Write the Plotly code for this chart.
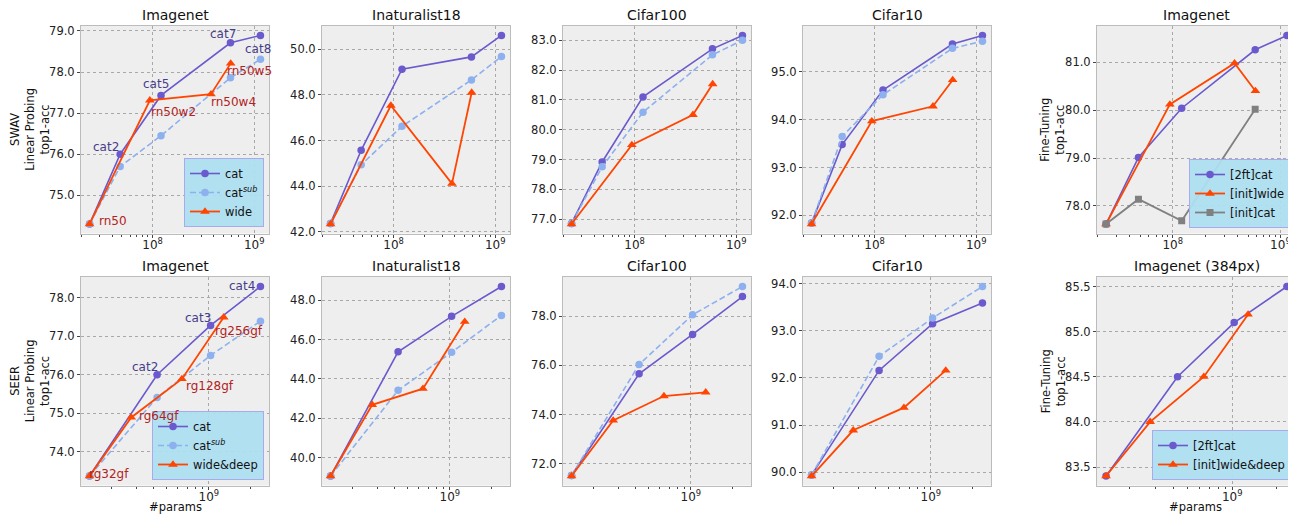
import numpy as np
import plotly.graph_objects as go

# ---------------- data ----------------
swav_params_cat = [24e6, 48e6, 121e6, 583e6, 1.15e9]
swav_params_wide = [24e6, 94e6, 375e6, 586e6]
swav_params_initcat = [24e6, 48e6, 121e6, 583e6]
seer_params_cat = [1.39e8, 4.25e8, 1.03e9, 2.35e9]
seer_params_wide = [1.39e8, 2.77e8, 6.41e8, 1.28e9]

swav_imagenet_cat = [74.3, 76.0, 77.43, 78.71, 78.89]
swav_imagenet_catsub = [74.3, 75.7, 76.45, 77.86, 78.31]
swav_imagenet_wide = [74.3, 77.31, 77.46, 78.21]
swav_inat_cat = [42.37, 45.57, 49.12, 49.66, 50.6]
swav_inat_catsub = [42.37, 44.94, 46.62, 48.65, 49.68]
swav_inat_wide = [42.34, 47.53, 44.11, 48.1]
swav_c100_cat = [76.86, 78.92, 81.1, 82.71, 83.16]
swav_c100_catsub = [76.86, 78.76, 80.59, 82.51, 83.0]
swav_c100_wide = [76.84, 79.49, 80.5, 81.53]
swav_c10_cat = [91.84, 93.48, 94.62, 95.58, 95.76]
swav_c10_catsub = [91.84, 93.65, 94.52, 95.49, 95.64]
swav_c10_wide = [91.82, 93.97, 94.28, 94.83]
ft_2ftcat = [77.62, 79.01, 80.04, 81.26, 81.56]
ft_initwide = [77.62, 80.12, 80.98, 80.40]
ft_initcat = [77.62, 78.14, 77.69, 80.02]

seer_imagenet_cat = [73.37, 76.0, 77.28, 78.29]
seer_imagenet_catsub = [73.37, 75.41, 76.5, 77.39]
seer_imagenet_wide = [73.37, 74.89, 75.89, 77.49]
seer_inat_cat = [39.06, 45.38, 47.18, 48.7]
seer_inat_catsub = [39.06, 43.42, 45.35, 47.23]
seer_inat_wide = [39.06, 42.68, 43.5, 46.91]
seer_c100_cat = [71.52, 75.65, 77.25, 78.79]
seer_c100_catsub = [71.52, 76.03, 78.05, 79.2]
seer_c100_wide = [71.5, 73.76, 74.75, 74.9]
seer_c10_cat = [89.94, 92.16, 93.15, 93.59]
seer_c10_catsub = [89.94, 92.46, 93.27, 93.94]
seer_c10_wide = [89.92, 90.89, 91.37, 92.16]
ft384_2ftcat = [83.4, 84.5, 85.1, 85.5]
ft384_initwd = [83.4, 84.0, 84.5, 85.19]

swav_cat_names = ["", "cat2", "cat5", "cat7", "cat8"]
swav_wide_names = ["rn50", "rn50w2", "rn50w4", "rn50w5"]
seer_cat_names = ["", "cat2", "cat3", "cat4"]
seer_wide_names = ["rg32gf", "rg64gf", "rg128gf", "rg256gf"]

titles = ["Imagenet", "Inaturalist18", "Cifar100", "Cifar10", "Imagenet",
          "Imagenet", "Inaturalist18", "Cifar100", "Cifar10", "Imagenet (384px)"]
yticks = [[75, 76, 77, 78, 79], [42, 44, 46, 48, 50], [77, 78, 79, 80, 81, 82, 83],
          [92, 93, 94, 95], [78, 79, 80, 81],
          [74, 75, 76, 77, 78], [40, 42, 44, 46, 48], [72, 74, 76, 78],
          [90, 91, 92, 93, 94], [83.5, 84.0, 84.5, 85.0, 85.5]]

# ---------------- styles / layout ----------------
OFF = 8  # page body margin of the rendered html
W, H = 1296 - OFF, 514 - OFF
FONT = "DejaVu Sans"
C_CAT = "#6A5ACD"
C_SUB = "#8DB0EE"
C_WIDE = "#FF4500"
C_GRAY = "#808080"
C_CATLBL = "#483D8B"
C_WIDELBL = "#B22222"

cols_px = [(81, 269), (322, 510), (563, 751), (803, 991), (1097, 1296)]
rows_px = [(26, 233.5), (277, 485.5)]


def px(X):
    return (X - OFF) / W


def py(Y):
    return 1 - (Y - OFF) / H


STY = {
    "cat": dict(mode="lines+markers", line=dict(color=C_CAT, width=1.6),
                marker=dict(symbol="circle", size=7.5, color=C_CAT)),
    "sub": dict(mode="lines+markers", line=dict(color=C_SUB, width=1.6, dash="6px,3px"),
                marker=dict(symbol="circle", size=7.5, color=C_SUB)),
    "wide": dict(mode="lines+markers", line=dict(color=C_WIDE, width=1.8),
                 marker=dict(symbol="triangle-up", size=8.5, color=C_WIDE)),
    "gray": dict(mode="lines+markers", line=dict(color=C_GRAY, width=1.8),
                 marker=dict(symbol="square", size=7, color=C_GRAY)),
}

panels = [
    [("cat", "cat", swav_params_cat, swav_imagenet_cat),
     ("sub", "cat<sup><i>sub</i></sup>", swav_params_cat, swav_imagenet_catsub),
     ("wide", "wide", swav_params_wide, swav_imagenet_wide)],
    [("cat", "", swav_params_cat, swav_inat_cat),
     ("sub", "", swav_params_cat, swav_inat_catsub),
     ("wide", "", swav_params_wide, swav_inat_wide)],
    [("cat", "", swav_params_cat, swav_c100_cat),
     ("sub", "", swav_params_cat, swav_c100_catsub),
     ("wide", "", swav_params_wide, swav_c100_wide)],
    [("cat", "", swav_params_cat, swav_c10_cat),
     ("sub", "", swav_params_cat, swav_c10_catsub),
     ("wide", "", swav_params_wide, swav_c10_wide)],
    [("cat", "[2ft]cat", swav_params_cat, ft_2ftcat),
     ("wide", "[init]wide", swav_params_wide, ft_initwide),
     ("gray", "[init]cat", swav_params_initcat, ft_initcat)],
    [("cat", "cat", seer_params_cat, seer_imagenet_cat),
     ("sub", "cat<sup><i>sub</i></sup>", seer_params_cat, seer_imagenet_catsub),
     ("wide", "wide&deep", seer_params_wide, seer_imagenet_wide)],
    [("cat", "", seer_params_cat, seer_inat_cat),
     ("sub", "", seer_params_cat, seer_inat_catsub),
     ("wide", "", seer_params_wide, seer_inat_wide)],
    [("cat", "", seer_params_cat, seer_c100_cat),
     ("sub", "", seer_params_cat, seer_c100_catsub),
     ("wide", "", seer_params_wide, seer_c100_wide)],
    [("cat", "", seer_params_cat, seer_c10_cat),
     ("sub", "", seer_params_cat, seer_c10_catsub),
     ("wide", "", seer_params_wide, seer_c10_wide)],
    [("cat", "[2ft]cat", seer_params_cat, ft384_2ftcat),
     ("wide", "[init]wide&deep", seer_params_wide, ft384_initwd)],
]
legend_of = {0: "legend", 4: "legend2", 5: "legend3", 9: "legend4"}

fig = go.Figure()
layout = dict(
    width=W, height=H, margin=dict(l=0, r=0, t=0, b=0, autoexpand=False),
    paper_bgcolor="white", plot_bgcolor="#EEEEEE",
    font=dict(family=FONT, size=11.5, color="#222"),
    showlegend=True,
)

minor_top = [m * 10 ** e for e in (7, 8) for m in range(2, 10)]
minor_bot = [m * 10 ** e for e in (8, 9) for m in range(2, 10)]

annotations = []
for i, series in enumerate(panels):
    r, c = divmod(i, 5)
    k = i + 1
    xs_all = np.log10(np.concatenate([np.array(s[2]) for s in series]))
    ys_all = np.concatenate([np.array(s[3]) for s in series])
    xlo, xhi = xs_all.min(), xs_all.max()
    ylo, yhi = ys_all.min(), ys_all.max()
    xm, ym = 0.05 * (xhi - xlo), 0.05 * (yhi - ylo)
    x0, x1 = cols_px[c]
    y0, y1 = rows_px[r]
    ax = "" if k == 1 else str(k)
    leg = legend_of.get(i)
    for key, name, xv, yv in series:
        tr = go.Scatter(x=xv, y=yv, xaxis="x" + ax, yaxis="y" + ax,
                        name=name or key, showlegend=bool(leg and name),
                        **STY[key])
        if leg:
            tr.legend = leg
        fig.add_trace(tr)
    major = [1e8, 1e9] if r == 0 else [1e9]
    layout["xaxis" + ax] = dict(
        type="log", domain=[px(x0), min(1.0, px(x1))], anchor="y" + ax,
        range=[xlo - xm, xhi + xm],
        tickmode="array", tickvals=major,
        ticktext=["10<sup>%d</sup>" % int(round(np.log10(v))) for v in major],
        ticks="outside", ticklen=3.5, tickcolor="#444", tickwidth=1,
        ticklabelstandoff=-3,
        tickfont=dict(size=12, color="#222"),
        showgrid=True, gridcolor="#A8A8A8", griddash="dot", gridwidth=0.9,
        showline=True, mirror=True, linecolor="#BCBCBC", linewidth=1,
        zeroline=False,
        minor=dict(tickvals=minor_top if r == 0 else minor_bot, ticks="outside",
                   ticklen=2, tickcolor="#444", showgrid=False),
    )
    layout["yaxis" + ax] = dict(
        domain=[py(y1), py(y0)], anchor="x" + ax,
        range=[ylo - ym, yhi + ym],
        tickmode="array", tickvals=yticks[i], tickformat=".1f",
        ticks="outside", ticklen=3, tickcolor="#444",
        tickfont=dict(size=11.5, color="#222"),
        showgrid=True, gridcolor="#A8A8A8", griddash="dot", gridwidth=0.9,
        showline=True, mirror=True, linecolor="#BCBCBC", linewidth=1,
        zeroline=False,
    )
    annotations.append(dict(
        text=titles[i], xref="paper", yref="paper",
        x=px((x0 + x1) / 2), y=py(y0), xanchor="center", yanchor="bottom",
        yshift=1, showarrow=False, font=dict(size=14, color="#111")))

# point labels (offsets in pixels: dx right, dy down)
label_sets = [
    (1, swav_params_cat, swav_imagenet_cat, swav_cat_names, C_CATLBL,
     [(0, 0), (-14, -7), (-5.5, -11.7), (-7.5, -8.4), (-2, 13.6)]),
    (1, swav_params_wide, swav_imagenet_wide, swav_wide_names, C_WIDELBL,
     [(23, -3), (23.7, 11.7), (22.7, 7.4), (18.5, 7.4)]),
    (6, seer_params_cat, seer_imagenet_cat, seer_cat_names, C_CATLBL,
     [(0, 0), (-12.3, -7.3), (-12.5, -7.7), (-18.5, -0.3)]),
    (6, seer_params_wide, seer_imagenet_wide, seer_wide_names, C_WIDELBL,
     [(19, -1.7), (28, -1), (28, 7.4), (15, 13.3)]),
]
for k, xv, yv, names, col, offs in label_sets:
    ax = "" if k == 1 else str(k)
    for xx, yy, nm, (dx, dy) in zip(xv, yv, names, offs):
        if not nm:
            continue
        annotations.append(dict(
            text=nm, xref="x" + ax, yref="y" + ax, x=np.log10(xx), y=yy,
            xanchor="center", yanchor="middle", xshift=dx, yshift=-dy,
            showarrow=False, font=dict(size=12, color=col)))

# axis titles
ylab = [("SWAV<br>Linear Probing<br>top1-acc", 30, 0),
        ("SEER<br>Linear Probing<br>top1-acc", 30, 1),
        ("Fine-Tuning<br>top1-acc", 1053, 0),
        ("Fine-Tuning<br>top1-acc", 1053, 1)]
for txt, xc, r in ylab:
    y0, y1 = rows_px[r]
    annotations.append(dict(
        text=txt, xref="paper", yref="paper", x=px(xc), y=py((y0 + y1) / 2),
        xanchor="center", yanchor="middle", textangle=-90, showarrow=False,
        font=dict(size=11.5, color="#111")))
for xc in ((cols_px[0][0] + cols_px[0][1]) / 2, 1195):
    annotations.append(dict(
        text="#params", xref="paper", yref="paper", x=px(xc), y=py(506.5),
        xanchor="center", yanchor="middle", showarrow=False,
        font=dict(size=11.5, color="#111")))

layout["annotations"] = annotations

leg_common = dict(bgcolor="rgba(173,222,240,0.95)", bordercolor="#A9A9EE", borderwidth=1,
                  font=dict(family=FONT, size=11.5, color="#111"), itemwidth=30,
                  xanchor="right", yanchor="bottom", tracegroupgap=0)
layout["legend"] = dict(leg_common, x=px(264), y=py(227))
layout["legend2"] = dict(leg_common, x=px(1291), y=py(228))
layout["legend3"] = dict(leg_common, x=px(264), y=py(480))
layout["legend4"] = dict(leg_common, x=px(1291), y=py(480))

fig.update_layout(**layout)
fig.write_html("out.html")
